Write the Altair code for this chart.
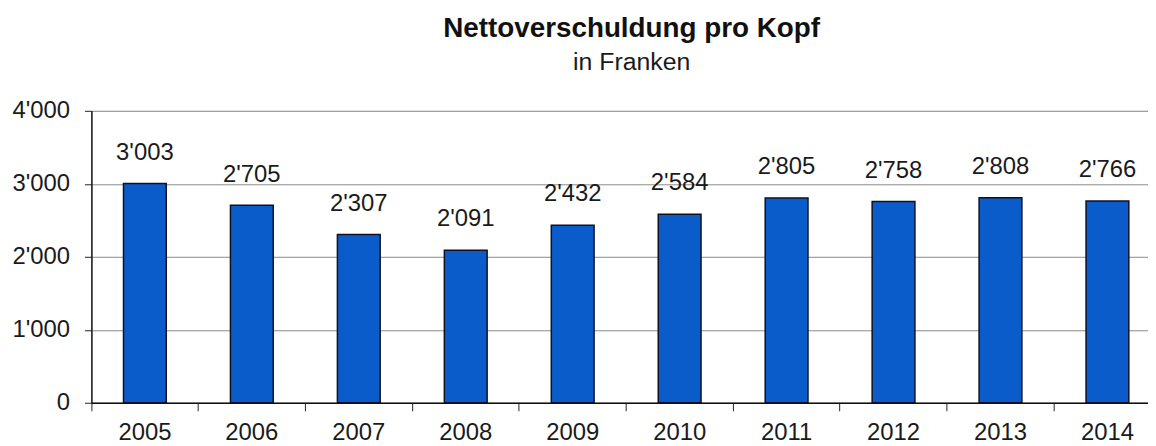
import altair as alt
import pandas as pd

years = ["2005", "2006", "2007", "2008", "2009", "2010", "2011", "2012", "2013", "2014"]
values = [3003, 2705, 2307, 2091, 2432, 2584, 2805, 2758, 2808, 2766]
y_ticks = [0, 1000, 2000, 3000, 4000]

df = pd.DataFrame({"Jahr": years, "Wert": values})
df["Label"] = [f"{v:,}".replace(",", "'") for v in values]

FONT = "Liberation Sans"

x = alt.X(
    "Jahr:N",
    sort=years,
    title=None,
    scale=alt.Scale(range=[0, 1077], paddingInner=0, paddingOuter=0),
    axis=alt.Axis(
        labelAngle=0,
        labelFontSize=24,
        labelFont=FONT,
        labelColor="#1a1a1a",
        labelPadding=10,
        tickSize=8,
        tickColor="#222222",
        tickWidth=1,
        bandPosition=0,
        domainColor="#111111",
        domainWidth=1.5,
        grid=False,
    ),
)

y_scale = alt.Scale(domain=[0, 4000], nice=False)

bars = alt.Chart(df).mark_bar(
    width=alt.RelativeBandSize(0.4),
    color="#0B5CCB",
    stroke="#101020",
    strokeWidth=1.5,
).encode(
    x=x,
    y=alt.Y(
        "Wert:Q",
        scale=y_scale,
        title=None,
        axis=alt.Axis(
            values=y_ticks,
            labelExpr="replace(format(datum.value, ','), ',', \"'\")",
            labelFontSize=24,
            labelFont=FONT,
            labelColor="#1a1a1a",
            labelPadding=15,
            tickSize=7,
            tickColor="#222222",
            domainColor="#111111",
            domainWidth=1.5,
            grid=True,
            gridColor="#8a8a8a",
            gridWidth=1,
        ),
    ),
)

labels = alt.Chart(df).mark_text(
    baseline="alphabetic",
    dy=-24,
    fontSize=24,
    font=FONT,
    color="#1a1a1a",
).encode(
    x=alt.X("Jahr:N", sort=years),
    y=alt.Y("Wert:Q", scale=y_scale),
    text="Label:N",
)

chart = (
    alt.layer(bars, labels)
    .properties(
        width=1064,
        height=294,
        autosize=alt.AutoSizeParams(type="none"),
        padding={"left": 84, "top": 102, "right": 0, "bottom": 42},
        title=alt.TitleParams(
            text="Nettoverschuldung pro Kopf",
            subtitle="in Franken",
            font=FONT,
            fontSize=28,
            fontWeight="bold",
            color="#111111",
            subtitleFont=FONT,
            subtitleFontSize=25,
            subtitleColor="#1a1a1a",
            subtitlePadding=7,
            anchor="middle",
            offset=24,
            dx=12,
        ),
    )
    .configure_view(stroke="#111111", strokeWidth=1.5)
    .configure(background="white")
)

chart.save("out.html", embed_options={"renderer": "svg", "actions": False})
